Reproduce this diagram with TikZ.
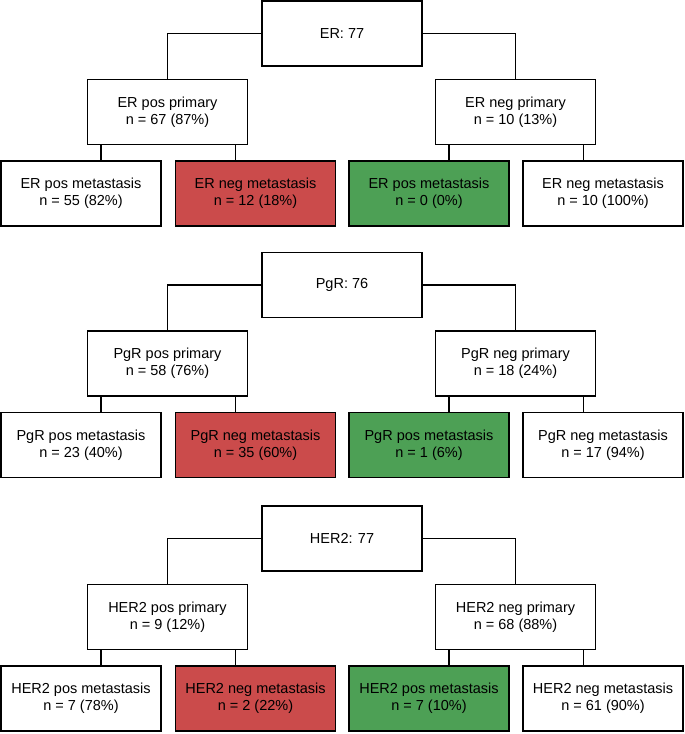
\documentclass[tikz,border=0pt]{standalone}
\usepackage{fontspec}
\setmainfont{Liberation Sans}
\definecolor{negred}{HTML}{CB4B4B}
\definecolor{posgreen}{HTML}{4DA055}
\tikzset{
 box/.style={draw,line width=1.5pt,align=center,inner sep=0pt,outer sep=0pt,
  minimum width=160pt,minimum height=65pt,font=\fontsize{14.5}{17}\selectfont},
 link/.style={line width=1.2pt},
}
\begin{document}
\begin{tikzpicture}[x=1pt,y=-1pt]
 \useasboundingbox (0,0) rectangle (685,734);
 % ER
 \begin{scope}
  \node[box] (er) at (342,33.5) {ER: 77};
  \node[box] (erp) at (167.5,112) {ER pos primary\\n = 67 (87\%)};
  \node[box] (ern) at (515.5,112) {ER neg primary\\n = 10 (13\%)};
  \node[box] (erpp) at (81,193.5) {ER pos metastasis\\n = 55 (82\%)};
  \node[box,fill=negred] (erpn) at (255.5,193.5) {ER neg metastasis\\n = 12 (18\%)};
  \node[box,fill=posgreen] (ernp) at (429,193.5) {ER pos metastasis\\n = 0 (0\%)};
  \node[box] (ernn) at (603,193.5) {ER neg metastasis\\n = 10 (100\%)};
  \draw[link] (er.west) -| (erp.north);
  \draw[link] (er.east) -| (ern.north);
  \draw[link] ([xshift=13.5pt]erp.south west) -- ([xshift=13.5pt]erp.south west |- erpp.north);
  \draw[link] ([xshift=-12pt]erp.south east) -- ([xshift=-12pt]erp.south east |- erpn.north);
  \draw[link] ([xshift=13.5pt]ern.south west) -- ([xshift=13.5pt]ern.south west |- ernp.north);
  \draw[link] ([xshift=-12pt]ern.south east) -- ([xshift=-12pt]ern.south east |- ernn.north);
 \end{scope}
 % PgR
 \begin{scope}[yshift=-251.5pt]
  \node[box] (pgr) at (342,33.5) {PgR: 76};
  \node[box] (pgrp) at (167.5,112) {PgR pos primary\\n = 58 (76\%)};
  \node[box] (pgrn) at (515.5,112) {PgR neg primary\\n = 18 (24\%)};
  \node[box] (pgrpp) at (81,193.5) {PgR pos metastasis\\n = 23 (40\%)};
  \node[box,fill=negred] (pgrpn) at (255.5,193.5) {PgR neg metastasis\\n = 35 (60\%)};
  \node[box,fill=posgreen] (pgrnp) at (429,193.5) {PgR pos metastasis\\n = 1 (6\%)};
  \node[box] (pgrnn) at (603,193.5) {PgR neg metastasis\\n = 17 (94\%)};
  \draw[link] (pgr.west) -| (pgrp.north);
  \draw[link] (pgr.east) -| (pgrn.north);
  \draw[link] ([xshift=13.5pt]pgrp.south west) -- ([xshift=13.5pt]pgrp.south west |- pgrpp.north);
  \draw[link] ([xshift=-12pt]pgrp.south east) -- ([xshift=-12pt]pgrp.south east |- pgrpn.north);
  \draw[link] ([xshift=13.5pt]pgrn.south west) -- ([xshift=13.5pt]pgrn.south west |- pgrnp.north);
  \draw[link] ([xshift=-12pt]pgrn.south east) -- ([xshift=-12pt]pgrn.south east |- pgrnn.north);
 \end{scope}
 % HER2
 \begin{scope}[yshift=-505pt]
  \node[box] (her) at (342,33.5) {HER2: 77};
  \node[box] (herp) at (167.5,112) {HER2 pos primary\\n = 9 (12\%)};
  \node[box] (hern) at (515.5,112) {HER2 neg primary\\n = 68 (88\%)};
  \node[box] (herpp) at (81,193.5) {HER2 pos metastasis\\n = 7 (78\%)};
  \node[box,fill=negred] (herpn) at (255.5,193.5) {HER2 neg metastasis\\n = 2 (22\%)};
  \node[box,fill=posgreen] (hernp) at (429,193.5) {HER2 pos metastasis\\n = 7 (10\%)};
  \node[box] (hernn) at (603,193.5) {HER2 neg metastasis\\n = 61 (90\%)};
  \draw[link] (her.west) -| (herp.north);
  \draw[link] (her.east) -| (hern.north);
  \draw[link] ([xshift=13.5pt]herp.south west) -- ([xshift=13.5pt]herp.south west |- herpp.north);
  \draw[link] ([xshift=-12pt]herp.south east) -- ([xshift=-12pt]herp.south east |- herpn.north);
  \draw[link] ([xshift=13.5pt]hern.south west) -- ([xshift=13.5pt]hern.south west |- hernp.north);
  \draw[link] ([xshift=-12pt]hern.south east) -- ([xshift=-12pt]hern.south east |- hernn.north);
 \end{scope}
\end{tikzpicture}
\end{document}
